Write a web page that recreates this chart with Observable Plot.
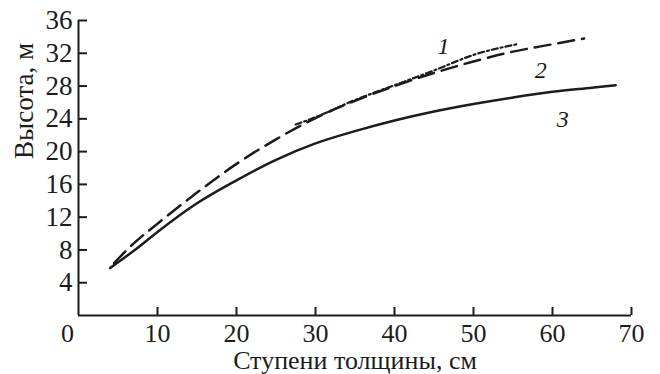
<!DOCTYPE html>
<html>
<head>
<meta charset="utf-8">
<script src="https://cdn.jsdelivr.net/npm/d3@7"></script>
<script src="https://cdn.jsdelivr.net/npm/@observablehq/plot@0.6"></script>
<style>
  html, body { margin: 0; padding: 0; background: #fff; }
  #chart { width: 660px; height: 374px; }
</style>
</head>
<body>
<div id="chart"></div>
<script>
// Curve 1 (dash-dot), curve 2 (long dash), curve 3 (solid)
const x1 = [27.5, 30, 35, 40, 45, 50, 55.5];
const h1 = [23.3, 24.2, 26.3, 28.1, 29.9, 31.8, 33.1];
const x2 = [4.5, 7, 10, 15, 20, 25, 30, 35, 40, 45, 50, 55, 60, 64];
const h2 = [6.4, 8.8, 11.2, 15.0, 18.5, 21.5, 24.1, 26.2, 28.0, 29.6, 31.0, 32.2, 33.1, 33.8];
const x3 = [4, 7, 10, 15, 20, 25, 30, 35, 40, 45, 50, 55, 60, 65, 68];
const h3 = [5.8, 7.9, 10.2, 13.7, 16.5, 19.0, 21.0, 22.5, 23.8, 24.9, 25.8, 26.6, 27.3, 27.8, 28.1];

const xTicks = [10, 20, 30, 40, 50, 60, 70];
const yTicks = [4, 8, 12, 16, 20, 24, 28, 32, 36];
const curveLabels = [
  {x: 46.2, y: 32.9, t: "1"},
  {x: 58.5, y: 29.9, t: "2"},
  {x: 61.3, y: 24.0, t: "3"}
];
const xTitle = "Ступени толщины, см";
const yTitle = "Высота, м";

const s1 = x1.map((x, i) => ({x, y: h1[i]}));
const s2 = x2.map((x, i) => ({x, y: h2[i]}));
const s3 = x3.map((x, i) => ({x, y: h3[i]}));

const ink = "#1c1c1c";
const serif = "Liberation Serif";

const chart = Plot.plot({
  width: 660,
  height: 374,
  marginLeft: 78,
  marginRight: 29,
  marginTop: 20,
  marginBottom: 59,
  x: {domain: [0, 70], axis: null},
  y: {domain: [0, 36], axis: null},
  marks: [
    Plot.ruleX([0], {y1: 0, y2: 36, stroke: ink, strokeWidth: 2}),
    Plot.ruleY([0], {x1: 0, x2: 70, stroke: ink, strokeWidth: 2}),
    Plot.axisY(yTicks, {tickSize: 9, dx: 9, tickPadding: 6, fontSize: 27, fontFamily: serif, stroke: ink, fill: ink, strokeWidth: 2, label: null}),
    Plot.axisX(xTicks, {tickSize: 8, dy: -8, tickPadding: 8, fontSize: 26, fontFamily: serif, stroke: ink, fill: ink, strokeWidth: 2, label: null}),
    Plot.text([0], {x: d => d, y: 0, dx: -11, dy: 18, text: d => String(d), fontSize: 26, fontFamily: serif, fill: ink}),
    Plot.text([xTitle], {frameAnchor: "bottom", lineAnchor: "middle", dy: 45, text: d => d, fontSize: 26, fontFamily: serif, fill: ink}),
    Plot.text([yTitle], {frameAnchor: "left", lineAnchor: "middle", rotate: -90, dx: -54, dy: -9, text: d => d, fontSize: 27, fontFamily: serif, fill: ink}),
    Plot.line(s3, {x: "x", y: "y", curve: "monotone-x", stroke: ink, strokeWidth: 2.5}),
    Plot.line(s2, {x: "x", y: "y", curve: "monotone-x", stroke: ink, strokeWidth: 2.5, strokeDasharray: "16,8"}),
    Plot.line(s1, {x: "x", y: "y", curve: "monotone-x", stroke: ink, strokeWidth: 2.2, strokeDasharray: "6,3,2,3"}),
    Plot.text(curveLabels, {x: "x", y: "y", text: "t", fontStyle: "italic", fontSize: 24, fontFamily: serif, fill: ink})
  ]
});
document.getElementById("chart").appendChild(chart);
</script>
</body>
</html>
